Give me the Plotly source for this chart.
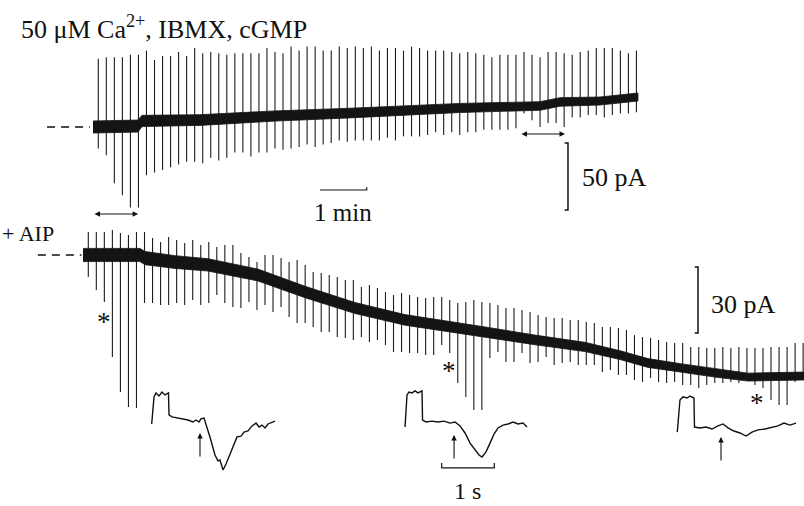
import plotly.graph_objects as go

# ---------------- Data ----------------
# Stimulation protocol: one test pulse every ~10.3 s, first one 6.8 s after trace start
stim_first_s = 6.8
stim_interval_s = 10.32

# Top recording: 50 uM Ca2+, IBMX, cGMP  (time in s, current in pA)
top_base_t = [0, 57.8, 63, 137.5, 233.8, 330.2, 471.5, 574.3, 600, 651.4, 700.2]
top_base_pA = [0, 0.7, 4.5, 5.2, 8.2, 10.4, 14.2, 15.7, 18.7, 19.4, 22.4]
top_noise_pA = [4.5, 4.5, 4.2, 4.0, 3.8, 3.6, 3.4, 3.2, 3.2, 3.0, 3.0]   # half-width of the noise band
top_spike_up = [51, 52, 52, 52, 54, 54, 57, 50, 53, 53, 56, 53, 59, 55, 56, 55, 54, 55, 55, 55, 55, 59,
                56, 55, 60, 57, 60, 60, 57, 57, 60, 59, 60, 59, 60, 57, 59, 59, 57, 60, 59, 57, 57, 57, 56,
                55, 56, 55, 54, 52, 54, 54, 54, 56, 54, 52, 56, 56, 55, 54, 56, 57, 59, 59, 59, 57, 55, 57]
top_spike_down = [-16, -21, -42, -51, -60, -60, -36, -34, -32, -30, -28, -26, -26, -27, -23, -25, -23, -19, -19, -22, -19, -19,
                  -16, -17, -16, -15, -13, -15, -13, -12, -10, -11, -10, -10, -10, -10, -8, -10, -7, -7, -7, -6, -4, -6, -4,
                  -6, -4, -4, -2, -2, -2, -2, -1, 10, 5, 0, 3, 3, 0, 7, 7, 9, 9, 7, 9, 10, 10, 11]

# Bottom recording: + AIP
bot_base_t = [0, 73.2, 79.7, 118.2, 160.6, 224.8, 285.2, 349.5, 413.7, 458.7, 516.5, 580.8, 645.0, 690.0,
              726.0, 769.6, 812.0, 854.4, 926.4]
bot_base_pA = [0, 0, -1.4, -3.2, -4.5, -9.1, -16.8, -24.1, -29.5, -31.8, -35.0, -38.6, -41.8, -45.5,
               -49.1, -51.4, -53.6, -55.5, -55.0]
bot_noise_pA = [3.0, 3.0, 3.0, 2.9, 2.8, 2.7, 2.6, 2.5, 2.4, 2.3, 2.3, 2.2, 2.1, 2.0, 2.0, 1.9, 1.9, 1.8, 1.8]
bot_spike_up = [10.5, 10.5, 10.5, 11.4, 10, 9.1, 10.5, 10.5, 7.7, 5.9, 8.2, 6.8, 5.5, 6.8, 4.5, 5.9, 3.6, 4.5, 4.5, 0.9, -0.9, -3.2,
                0, 0, -1.4, -3.2, -2.3, -4.5, -7.7, -8.2, -9.1, -10, -11.4, -11.4, -14.5, -13.6, -15, -16.8, -18.2, -17.3, -18.2, -19.1, -19.5, -19.1,
                -19.1, -20.5, -21.8, -21.4, -20.5, -21.4, -21.8, -22.7, -24.1, -24.1, -25, -25.9, -27.3, -28.2, -28.6, -28.6, -29.5, -29.5, -30.5, -30.9, -32.7, -32.7, -33.2,
                -34.1, -36.4, -37.3, -37.7, -38.6, -39.5, -40, -40, -41.8, -41.8, -42.3, -42.3, -41.8, -42.3, -41.8, -42.3, -42.3, -42.3, -41.8, -41.8, -41.8, -40, -40]
bot_spike_down = [-10, -15.9, -21.4, -46.4, -62.3, -69.1, -69.5, -21.8, -21.8, -22.7, -22.7, -21.8, -22.7, -20.5, -22.7, -21.8, -18.2, -21.8, -23.6, -24.1, -21.4, -25,
                  -22.7, -25.9, -23.6, -28.2, -30.9, -30.9, -32.7, -35, -35, -37.3, -37.7, -38.6, -37.3, -39.5, -38.6, -40.9, -44.1, -44.1, -44.5, -44.5, -45.5, -45.5,
                  -40.9, -44.5, -58.2, -64.5, -70.5, -70.5, -46.8, -44.1, -48.6, -48.6, -44.5, -49.1, -48.6, -46.4, -50, -49.1, -48.6, -50, -50, -50, -53.2, -52.3, -54.5,
                  -54.5, -56.8, -57.7, -55.9, -57.7, -58.2, -57.7, -59.1, -59.1, -60.5, -59.1, -58.2, -58.2, -57.7, -58.2, -56.8, -59.1, -60.5, -65.9, -68.2, -68.2, -57.7, -56.8]

# Insets: single sweeps (time in s from sweep start, current in pA)
inset1_t = [0, 0.044, 0.082, 0.139, 0.196, 0.253, 0.319, 0.329, 0.386, 0.481, 0.595, 0.690, 0.785, 0.842, 0.899, 0.937,
            0.994, 1.032, 1.108, 1.203, 1.260, 1.298, 1.356, 1.413, 1.489, 1.565, 1.622, 1.698, 1.755, 1.831, 1.907, 1.983,
            2.040, 2.097, 2.154, 2.211, 2.287, 2.344]
inset1_pA = [-1.8, 10.5, 12.3, 10.9, 12.7, 11.4, 12.3, 2.3, 1.4, 0.9, 0.5, 0, -0.9, 0, -0.9, 0.5,
             0.9, -1.8, -7.7, -15.9, -18.6, -18.2, -22.7, -20.0, -15.5, -10.5, -7.7, -7.3, -5.5, -5.0, -2.7, -1.4,
             -3.2, -2.3, -3.6, -1.8, -0.9, -0.5]
inset2_t = [0, 0.038, 0.076, 0.133, 0.19, 0.247, 0.323, 0.333, 0.399, 0.513, 0.627, 0.741, 0.856, 0.951, 1.046, 1.141,
            1.236, 1.331, 1.407, 1.464, 1.540, 1.616, 1.692, 1.768, 1.863, 1.958, 2.053, 2.148, 2.243, 2.319]
inset2_pA = [-3.2, 11.4, 12.7, 12.3, 13.2, 12.3, 13.2, 0, -0.9, -0.5, -0.9, -0.5, -1.4, -0.9, -2.7, -5.9,
             -10.5, -13.6, -15.9, -16.8, -14.5, -10.5, -6.4, -3.6, -2.3, -1.8, -0.9, -1.8, -1.4, -3.2]
inset3_t = [0, 0.051, 0.108, 0.184, 0.241, 0.317, 0.327, 0.432, 0.546, 0.660, 0.774, 0.869, 0.964, 1.078, 1.192, 1.306,
            1.420, 1.534, 1.667, 1.800, 1.914, 2.028, 2.142, 2.257]
inset3_pA = [-5.5, 9.1, 10.5, 10.0, 10.9, 10.0, -3.2, -3.6, -3.2, -4.1, -2.7, -1.8, -3.6, -5.0, -5.9, -7.3,
             -5.5, -4.5, -4.1, -3.2, -2.7, -1.4, -2.3, -1.4]
inset_stim_t = [0.918, 0.932, 0.831]          # arrows: time of flash in each sweep
inset_offsets = [2.884, 7.700, 12.876]        # where each sweep is displayed along the inset time axis

# ---------------- Figure ----------------
W, H = 804, 506
BLACK = "#111111"
FONT = "Liberation Serif, Times New Roman, serif"

fig = go.Figure()


def spike_xy(first, interval, ups, downs):
    xs, ys = [], []
    for i, (u, d) in enumerate(zip(ups, downs)):
        t = first + i * interval
        xs += [t, t, None]
        ys += [d, u, None]
    return xs, ys


def band(ts, base, noise):
    xs = list(ts) + list(ts)[::-1]
    ys = [b + n for b, n in zip(base, noise)] + [b - n for b, n in zip(base, noise)][::-1]
    return xs, ys


# top recording
sx, sy = spike_xy(stim_first_s, stim_interval_s, top_spike_up, top_spike_down)
fig.add_trace(go.Scatter(x=sx, y=sy, mode="lines", line=dict(color="#1c1c1c", width=1.1),
                         xaxis="x", yaxis="y", hoverinfo="skip"))
bx, by = band(top_base_t, top_base_pA, top_noise_pA)
fig.add_trace(go.Scatter(x=bx, y=by, mode="lines", fill="toself", fillcolor="#141414",
                         line=dict(color="#141414", width=0.8), xaxis="x", yaxis="y", hoverinfo="skip"))
# dashed reference (zero-current level)
fig.add_trace(go.Scatter(x=[-59, -4], y=[0, 0], mode="lines",
                         line=dict(color=BLACK, width=1.5, dash="8px,6px"), xaxis="x", yaxis="y"))
# 50 pA scale bar
fig.add_trace(go.Scatter(x=[606, 610.3, 610.3, 606], y=[-12, -12, -62, -62], mode="lines",
                         line=dict(color=BLACK, width=1.5), xaxis="x", yaxis="y"))
# 1 min scale bar
fig.add_trace(go.Scatter(x=[291.7, 351.7, 351.7], y=[-47, -47, -45], mode="lines",
                         line=dict(color=BLACK, width=1.2), xaxis="x", yaxis="y"))

# bottom recording
sx, sy = spike_xy(stim_first_s, stim_interval_s, bot_spike_up, bot_spike_down)
fig.add_trace(go.Scatter(x=sx, y=sy, mode="lines", line=dict(color="#1c1c1c", width=1.1),
                         xaxis="x2", yaxis="y2", hoverinfo="skip"))
bx, by = band(bot_base_t, bot_base_pA, bot_noise_pA)
fig.add_trace(go.Scatter(x=bx, y=by, mode="lines", fill="toself", fillcolor="#141414",
                         line=dict(color="#141414", width=0.8), xaxis="x2", yaxis="y2", hoverinfo="skip"))
fig.add_trace(go.Scatter(x=[-58, -2], y=[0, 0], mode="lines",
                         line=dict(color=BLACK, width=1.5, dash="8px,6px"), xaxis="x2", yaxis="y2"))
# 30 pA scale bar
fig.add_trace(go.Scatter(x=[786, 790.2, 790.2, 786], y=[-5.45, -5.45, -35.45, -35.45], mode="lines",
                         line=dict(color=BLACK, width=1.5), xaxis="x2", yaxis="y2"))

# insets
for off, tt, vv in zip(inset_offsets, [inset1_t, inset2_t, inset3_t], [inset1_pA, inset2_pA, inset3_pA]):
    fig.add_trace(go.Scatter(x=[off + t for t in tt], y=vv, mode="lines",
                             line=dict(color=BLACK, width=1.4), xaxis="x3", yaxis="y3", hoverinfo="skip"))
# 1 s scale bar
fig.add_trace(go.Scatter(x=[8.397, 8.397, 9.397, 9.397], y=[-19.5, -21.8, -21.8, -19.5], mode="lines",
                         line=dict(color=BLACK, width=1.2), xaxis="x3", yaxis="y3"))

annotations = []
# stimulus arrows in insets
for off, st, (y0, y1) in zip(inset_offsets, inset_stim_t, [(-17.3, -5.9), (-18.2, -6.8), (-19.1, -7.7)]):
    annotations.append(dict(x=off + st, y=y1, ax=off + st, ay=y0, xref="x3", yref="y3", axref="x3", ayref="y3",
                            text="", showarrow=True, arrowhead=2, arrowsize=1.0, arrowwidth=1.1,
                            arrowcolor=BLACK))
# double-headed arrows (solution exchange periods)
for (xa, xb, yv) in [(0, 58, -64.9), (548.6, 606.5, -5.2)]:
    annotations.append(dict(x=xb, y=yv, ax=xa, ay=yv, xref="x", yref="y", axref="x", ayref="y",
                            text="", showarrow=True, arrowhead=2, arrowside="end+start",
                            arrowsize=1.0, arrowwidth=1.1, arrowcolor=BLACK))


def txt(s, x, y, size, xanchor="left"):
    return dict(text=s, x=x / W, y=1 - y / H, xref="paper", yref="paper", showarrow=False,
                xanchor=xanchor, yanchor="middle", font=dict(family=FONT, size=size, color=BLACK))


annotations += [
    txt("50 \u03bcM Ca<sup>2+</sup>, IBMX, cGMP", 19, 27, 26),
    txt("+ AIP", 0, 233, 22),
    txt("1 min", 343, 212, 25, "center"),
    txt("50 pA", 580, 178, 26),
    txt("30 pA", 709, 304, 26),
    txt("1 s", 467, 491, 24, "center"),
    txt("*", 104, 322, 27, "center"),
    txt("*", 449, 371, 27, "center"),
    txt("*", 757, 403, 27, "center"),
]

ax_common = dict(visible=False, showgrid=False, zeroline=False, fixedrange=True, domain=[0, 1])
fig.update_layout(
    width=W, height=H, autosize=False,
    margin=dict(l=0, r=0, t=0, b=0, pad=0),
    paper_bgcolor="white", plot_bgcolor="white",
    showlegend=False,
    xaxis=dict(range=[-119.49, 913.54], **ax_common),
    yaxis=dict(range=[-282.84, 94.78], **ax_common),
    xaxis2=dict(range=[-106.64, 926.38], overlaying="x", anchor="y2", **ax_common),
    yaxis2=dict(range=[-114.09, 115.91], overlaying="y", anchor="x2", **ax_common),
    xaxis3=dict(range=[0, 15.285], overlaying="x", anchor="y3", **ax_common),
    yaxis3=dict(range=[-39.09, 190.91], overlaying="y", anchor="x3", **ax_common),
    annotations=annotations,
)

# remove the default 8px page margin so the figure fills the window exactly
fig.write_html("out.html", config={"displayModeBar": False},
               post_script="document.body.style.margin='0';document.body.style.overflow='hidden';")
